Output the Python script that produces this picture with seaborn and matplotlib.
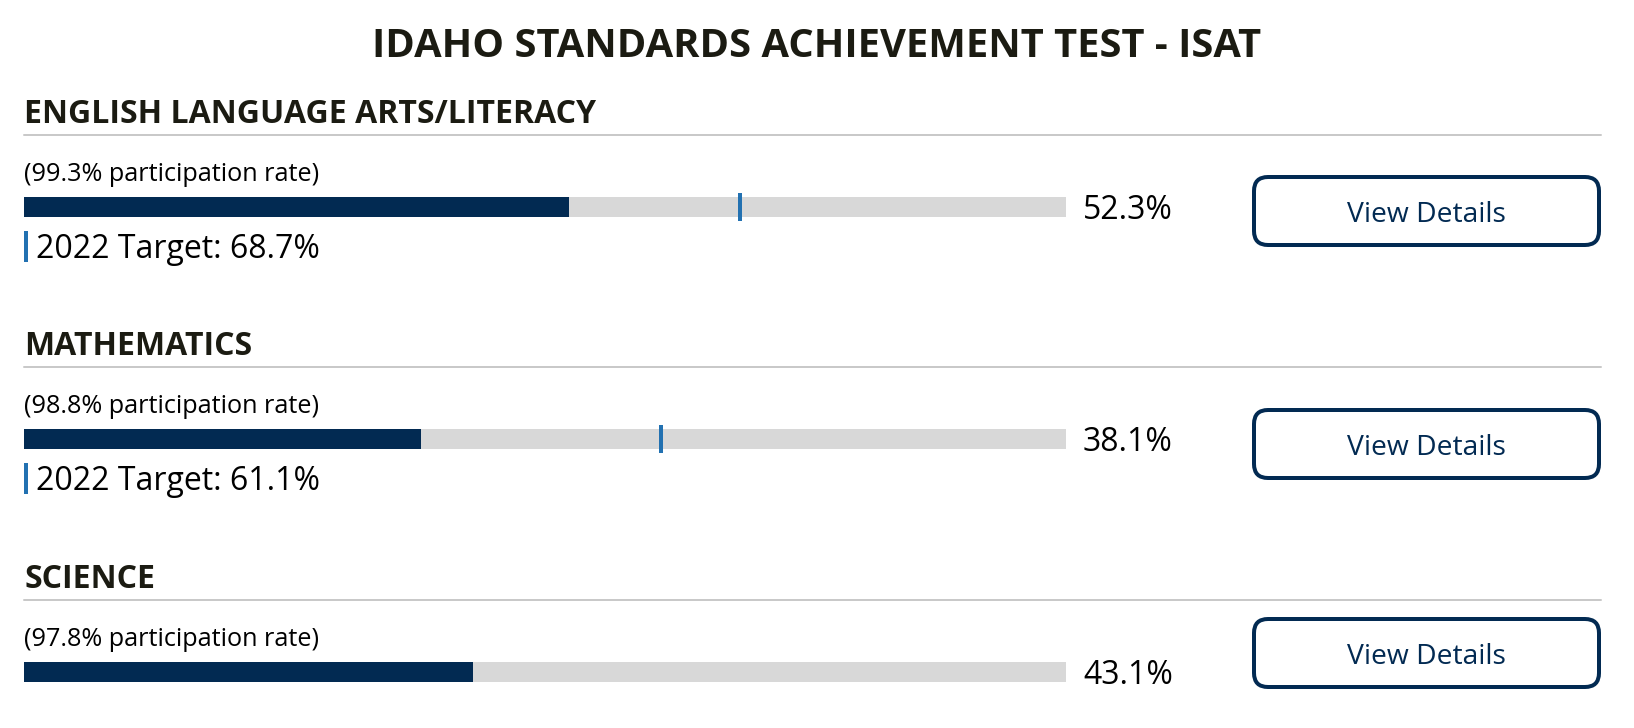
import matplotlib
matplotlib.use("Agg")
import matplotlib.pyplot as plt
import seaborn as sns
import pandas as pd
from matplotlib.patches import FancyBboxPatch, Rectangle
from matplotlib.lines import Line2D

# data
title = "IDAHO STANDARDS ACHIEVEMENT TEST - ISAT"
subjects = ["ENGLISH LANGUAGE ARTS/LITERACY", "MATHEMATICS", "SCIENCE"]
proficient = [52.3, 38.1, 43.1]
participation = [99.3, 98.8, 97.8]
targets = [68.7, 61.1, None]
target_year = 2022
button_label = "View Details"

NAVY = "#022a52"
GRAY = "#d8d8d8"
TICK = "#2271b1"
INK = "#1b1b12"
RULE = "#c9c9c9"

W, H, DPI = 1634, 728, 100

sns.set_theme(style="white")
plt.rcParams["font.family"] = ["Open Sans", "DejaVu Sans"]

fig = plt.figure(figsize=(W / DPI, H / DPI), dpi=DPI)
fig.patch.set_facecolor("white")
inch = fig.dpi_scale_trans


def px(x, y):
    # pixel position measured from the top-left -> inches from bottom-left
    return x / DPI, (H - y) / DPI


def label(x, y, s, **kw):
    fig.text(*px(x, y), s, transform=inch, va="baseline", **kw)


label(W / 2, 57, title, ha="center", fontsize=28.7, fontweight="bold", color=INK)

bar_left, bar_right, right_edge = 24, 1066, 1601
heading_y = [123, 355, 588]
button_top = [175, 408, 617]

for i, subj in enumerate(subjects):
    hy = heading_y[i]
    label(bar_left, hy, subj, fontsize=23, fontweight="bold", color=INK)
    fig.add_artist(Line2D([bar_left / DPI, right_edge / DPI], [(H - hy - 12) / DPI] * 2,
                          transform=inch, color=RULE, lw=1.44))
    label(bar_left, hy + 58, f"({participation[i]}% participation rate)", fontsize=18.2, color="black")

    # progress bar: gray track + navy value, target tick on top
    bar_top = hy + 74
    ax = fig.add_axes([bar_left / W, (H - bar_top - 24) / H, (bar_right - bar_left) / W, 28 / H])
    df = pd.DataFrame({"subject": [subj], "full": [100.0], "value": [proficient[i]]})
    sns.barplot(data=df, x="full", y="subject", color=GRAY, width=20 / 28,
                saturation=1, linewidth=0, ax=ax)
    sns.barplot(data=df, x="value", y="subject", color=NAVY, width=20 / 28,
                saturation=1, linewidth=0, ax=ax)
    if targets[i] is not None:
        ax.axvline(targets[i], color=TICK, lw=2.88)
    ax.set_xlim(0, 100)
    ax.set_ylim(0.5, -0.5)
    ax.axis("off")

    label(1083, bar_top + 22, f"{proficient[i]}%", fontsize=23, color="black")

    if targets[i] is not None:
        fig.add_artist(Rectangle(px(bar_left, bar_top + 65), 4 / DPI, 31 / DPI,
                                 transform=inch, color=TICK, lw=0))
        label(36, bar_top + 61, f"{target_year} Target: {targets[i]}%", fontsize=23, color="black")

    # "View Details" button
    bt = button_top[i]
    fig.add_artist(FancyBboxPatch(px(1254, bt + 70), 345 / DPI, 68 / DPI,
                                  boxstyle="round,pad=0,rounding_size=0.14",
                                  transform=inch, facecolor="white", edgecolor=NAVY, lw=2.88))
    label(1426, bt + 47, button_label, ha="center", fontsize=20.3, color=NAVY)

fig.savefig("out.png", dpi=DPI, facecolor="white")
